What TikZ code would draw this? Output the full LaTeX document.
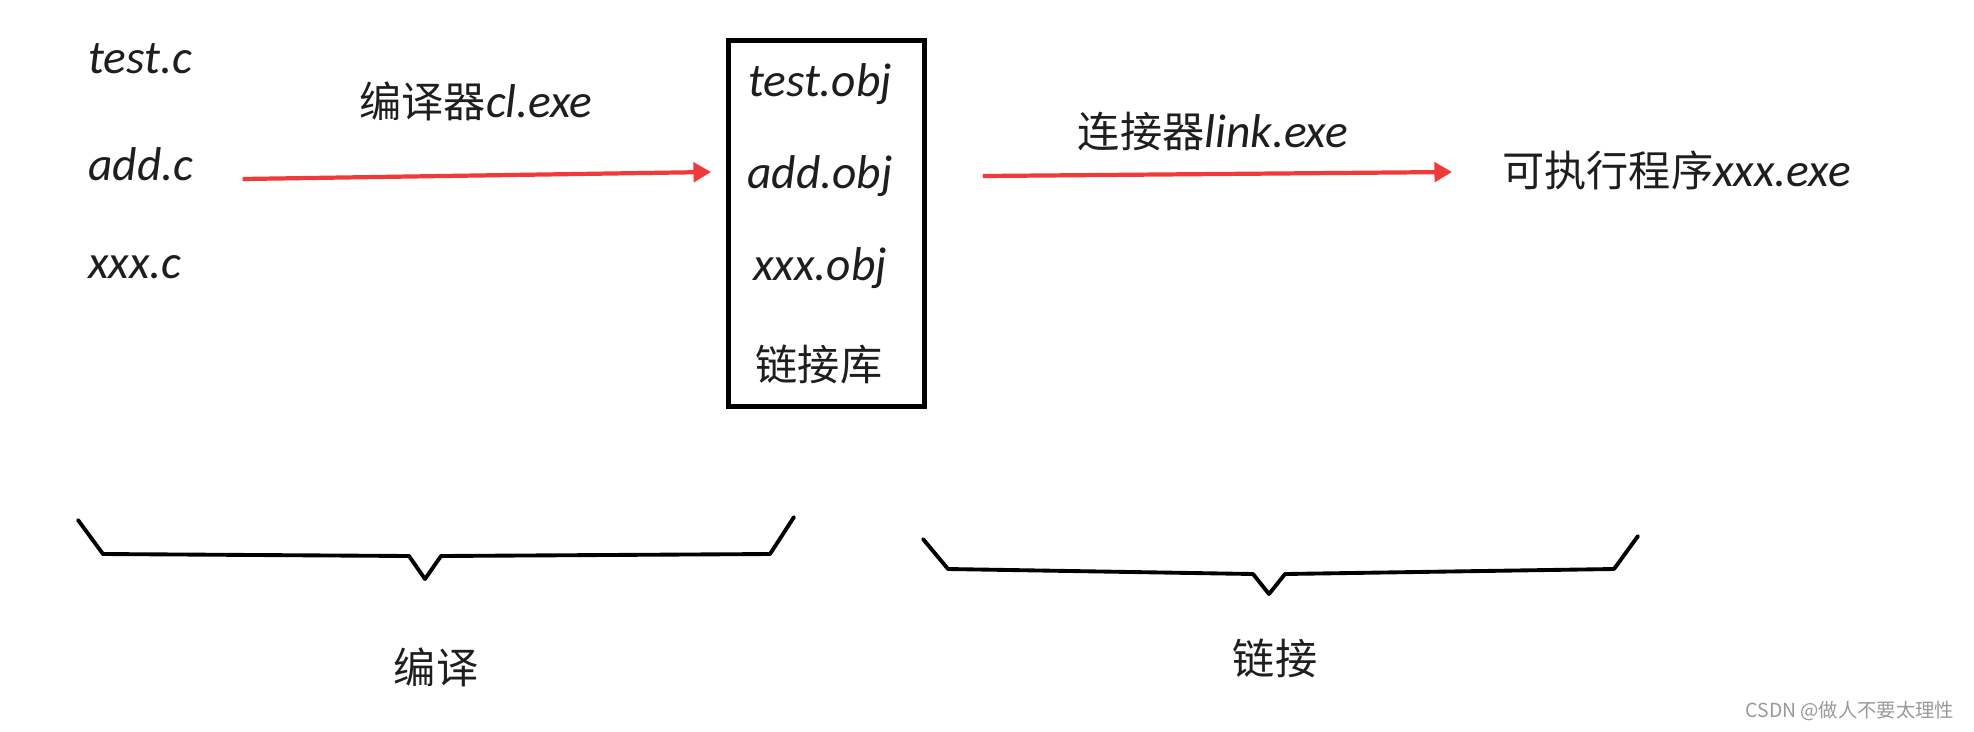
\documentclass[tikz,border=0pt]{standalone}
\usepackage{fontspec}
\setmainfont{Carlito}
\newfontfamily\cjk{Noto Sans CJK SC}
\usetikzlibrary{arrows.meta,positioning}
\definecolor{ArrowRed}{RGB}{240,58,58}
\definecolor{InkGray}{RGB}{30,30,30}
\newcommand{\hand}[1]{{\fontsize{27}{30}\selectfont\itshape #1}}

\begin{document}
\begin{tikzpicture}[
        x=0.02cm, y=-0.02cm,
        every node/.style={font=\fontsize{24}{28}\selectfont, text=InkGray, inner sep=0pt},
        file/.style={font=\fontsize{27}{30}\selectfont\itshape},
        objbox/.style={draw=black, line width=2.8pt, minimum width=3.92cm, minimum height=7.32cm},
        redarrow/.style={draw=ArrowRed, line width=2.4pt, -{Triangle[length=10pt,width=11pt]}},
        brace/.style={line width=2.2pt, line join=round, line cap=round}
    ]
    \useasboundingbox (0,0) rectangle (1974,731);

    % Source files
    \node[file, anchor=west] (testc) at (88,59) {test.c};
    \node[file, anchor=west] (addc) at (88,164) {add.c};
    \node[file, anchor=west] (xxxc) at (88,267) {xxx.c};
    \node (cl) at (476,101) {{\cjk 编译器}\hand{cl.exe}};

    % Object files
    \node[objbox] (objs) at (826.5,223.5) {};
    \node[file] (testobj) at (820,84) {test.obj};
    \node[file] (addobj) at (820,176) {add.obj};
    \node[file] (xxxobj) at (820,268) {xxx.obj};
    \node (lib) at (819,365) {\cjk 链接库};

    % Result
    \node (linker) at (1213,132) {{\cjk 连接器}\hand{link.exe}};
    \node[anchor=west] (exe) at (1502,170) {{\cjk 可执行程序}\hand{xxx.exe}};

    % Arrows
    \draw[redarrow] ([xshift=0.98cm, yshift=-0.3cm]addc.east) -- ([xshift=-0.72cm, yshift=0.08cm]addobj.west);
    \draw[redarrow] ([xshift=1.12cm, yshift=0.95cm]objs.east) -- ([xshift=-1cm, yshift=-0.04cm]exe.west);

    % Braces
    \draw[brace] (78,520) -- (103,554) -- (409,556) -- (425,579) -- (441,556) -- (770,554) -- (794,517);
    \draw[brace] (923,539) -- (948,569) -- (1253,574) -- (1269,594) -- (1285,574) -- (1614,569) -- (1638,536);

    % Labels
    \node (compile) at (436,667) {\cjk 编译};
    \node (link) at (1275,658) {\cjk 链接};
    \node[font=\fontsize{11}{13}\selectfont, text=black!40] (mark) at (1850,711) {\cjk CSDN @做人不要太理性};
\end{tikzpicture}
\end{document}
